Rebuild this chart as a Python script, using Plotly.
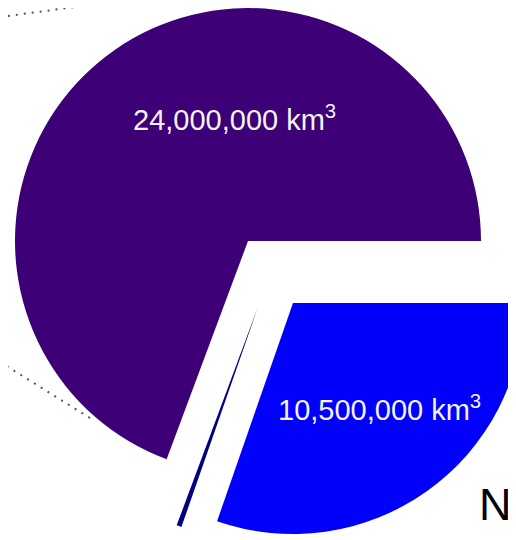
import plotly.graph_objects as go

# ---- data ----
categories = ["Ice caps & glaciers", "Surface water", "Groundwater"]
volumes_km3 = [24000000, 120000, 10500000]
slice_colors = ["#3d0076", "#000080", "#0000fb"]
label_texts = ["24,000,000 km<sup>3</sup>", "10,500,000 km<sup>3</sup>"]
side_label = "Non-frozen"

W, H = 516, 540

def domain(cx, cy, r):
    return dict(x=[max(0.0, (cx - r) / W), min(1.0, (cx + r) / W)],
                y=[max(0.0, 1 - (cy + r) / H), min(1.0, 1 - (cy - r) / H)])

# each slice drawn by its own pie trace (same values), so exploded slices
# can sit at their own offsets
placements = [
    (240, 233, 233),   # ice caps
    (250, 299, 233),   # thin sliver
    (285, 295, 231),   # groundwater (pulled out)
]

total = sum(volumes_km3)
start_rot = 90 - 360 * volumes_km3[0] / total   # first slice ends at 3 o'clock

fig = go.Figure()
for i, (cx, cy, r) in enumerate(placements):
    cols = ["rgba(0,0,0,0)"] * len(volumes_km3)
    cols[i] = slice_colors[i]
    fig.add_trace(go.Pie(
        labels=categories, values=volumes_km3, sort=False,
        direction="counterclockwise", rotation=start_rot,
        marker=dict(colors=cols, line=dict(width=0)),
        textinfo="none", hoverinfo="label+value",
        domain=domain(cx, cy, r), showlegend=False,
    ))

lab_font = dict(family="Liberation Sans, Arial", size=29, color="#f4f4f4")
fig.add_annotation(x=123 / W, y=1 - 110 / H, xref="paper", yref="paper",
                   text=label_texts[0], showarrow=False, xanchor="left",
                   yanchor="middle", font=lab_font)
fig.add_annotation(x=268 / W, y=1 - 400 / H, xref="paper", yref="paper",
                   text=label_texts[1], showarrow=False, xanchor="left",
                   yanchor="middle", font=lab_font)
fig.add_annotation(x=469 / W, y=1 - 496 / H, xref="paper", yref="paper",
                   text=side_label, showarrow=False, xanchor="left",
                   yanchor="middle",
                   font=dict(family="Liberation Sans, Arial", size=45, color="#000000"))

dot = dict(color="#555555", width=2, dash="2px,6px")
fig.add_shape(type="line", xref="paper", yref="paper",
              x0=-8 / W, y0=1 - 9 / H, x1=140 / W, y1=1 - (9 - 148 * 18 / 135) / H, line=dot)
fig.add_shape(type="line", xref="paper", yref="paper",
              x0=-8 / W, y0=1 - 354 / H, x1=82 / W, y1=1 - 410 / H, line=dot)

fig.update_layout(width=W, height=H, margin=dict(l=0, r=0, t=0, b=0),
                  paper_bgcolor="white", plot_bgcolor="white", showlegend=False)
fig.write_html("out.html")
